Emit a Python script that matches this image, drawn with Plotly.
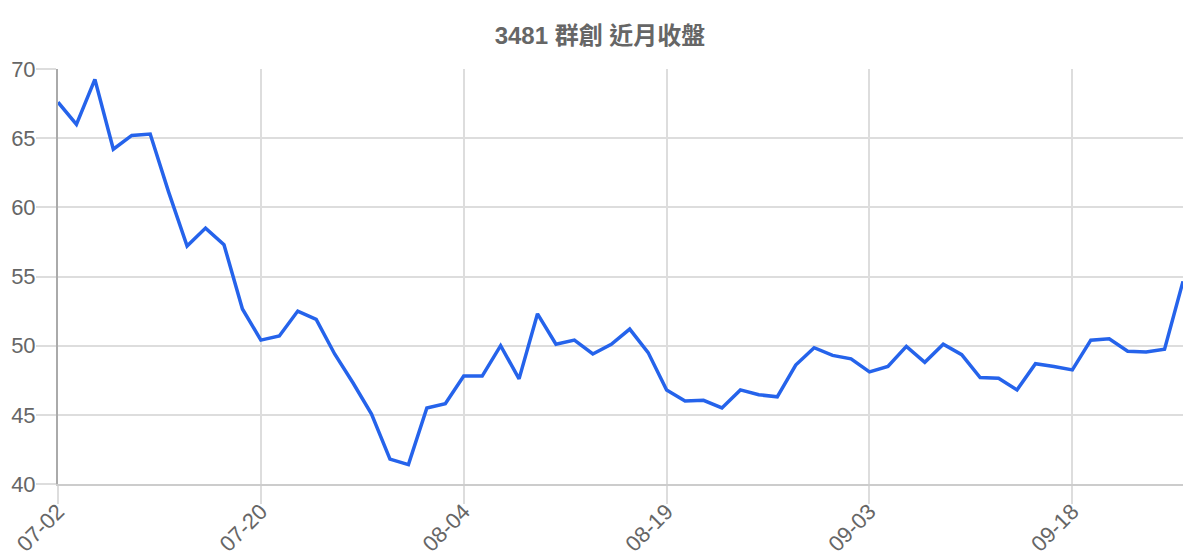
import plotly.graph_objects as go

# trading days (MM-DD) and near-month closing price
dates = ['07-02', '07-03', '07-04', '07-07', '07-08', '07-09', '07-10', '07-11', '07-14', '07-15',
         '07-17', '07-20', '07-21', '07-22', '07-23', '07-24', '07-25', '07-28', '07-29', '07-30',
         '07-31', '08-01', '08-04', '08-05', '08-06', '08-07', '08-08', '08-11', '08-12', '08-13',
         '08-14', '08-15', '08-18', '08-19', '08-20', '08-21', '08-22', '08-25', '08-26', '08-27',
         '08-28', '08-29', '09-01', '09-02', '09-03', '09-04', '09-05', '09-08', '09-09', '09-10',
         '09-11', '09-12', '09-15', '09-16', '09-17', '09-18', '09-19', '09-22', '09-23', '09-24',
         '09-25', '09-26']
close = [67.6, 66.0, 69.25, 64.2, 65.2, 65.3, 61.1, 57.2, 58.5, 57.3,
         52.65, 50.4, 50.7, 52.5, 51.9, 49.4, 47.3, 45.05, 41.8, 41.4,
         45.5, 45.8, 47.8, 47.8, 50.0, 47.6, 52.3, 50.1, 50.4, 49.4,
         50.1, 51.2, 49.5, 46.8, 46.0, 46.05, 45.5, 46.8, 46.45, 46.3,
         48.6, 49.85, 49.3, 49.05, 48.1, 48.5, 49.95, 48.8, 50.1, 49.35,
         47.7, 47.65, 46.8, 48.7, 48.5, 48.25, 50.4, 50.5, 49.6, 49.55,
         49.75, 54.65]
tick_labels = ['07-02', '07-20', '08-04', '08-19', '09-03', '09-18']
y_ticks = [40, 45, 50, 55, 60, 65, 70]

FONT = "Liberation Sans, Arial, Noto Sans CJK TC, sans-serif"

fig = go.Figure(go.Scatter(
    x=dates, y=close, mode='lines',
    line=dict(color='#2563eb', width=3.5),
    hoverinfo='x+y',
))

# the page body has an 8px margin, so margins are shifted by 8px
fig.update_layout(
    width=1200, height=560,
    paper_bgcolor='white', plot_bgcolor='white',
    margin=dict(l=50, r=25, t=61, b=84),
    showlegend=False,
    font=dict(family=FONT, color='#666666', size=22),
    title=dict(text='<b>3481 群創 近月收盤</b>', x=0.5 - 8 / 1200, xanchor='center',
               y=1 - 28 / 560, yanchor='middle',
               font=dict(family=FONT, size=24, color='#666666')),
)

fig.update_xaxes(
    type='category', range=[0, len(dates) - 1],
    tickmode='array', tickvals=tick_labels, ticktext=tick_labels,
    tickangle=-45, ticks='outside', ticklen=18, tickcolor='#dddddd', tickwidth=1.5,
    ticklabelstandoff=-14,
    showgrid=True, gridcolor='#dddddd', gridwidth=1.5,
    showline=True, linecolor='#cccccc', linewidth=2,
    tickfont=dict(size=22, color='#666666'),
    automargin=False, zeroline=False,
)
fig.update_yaxes(
    range=[40, 70], tickmode='array', tickvals=y_ticks,
    ticks='outside', ticklen=20, tickcolor='#dddddd', tickwidth=1.5,
    ticklabelstandoff=-4,
    showgrid=True, gridcolor='#dddddd', gridwidth=1.5,
    showline=True, linecolor='#aaaaaa', linewidth=2,
    tickfont=dict(size=22, color='#666666'),
    automargin=False, zeroline=False,
)

fig.write_html("out.html")
